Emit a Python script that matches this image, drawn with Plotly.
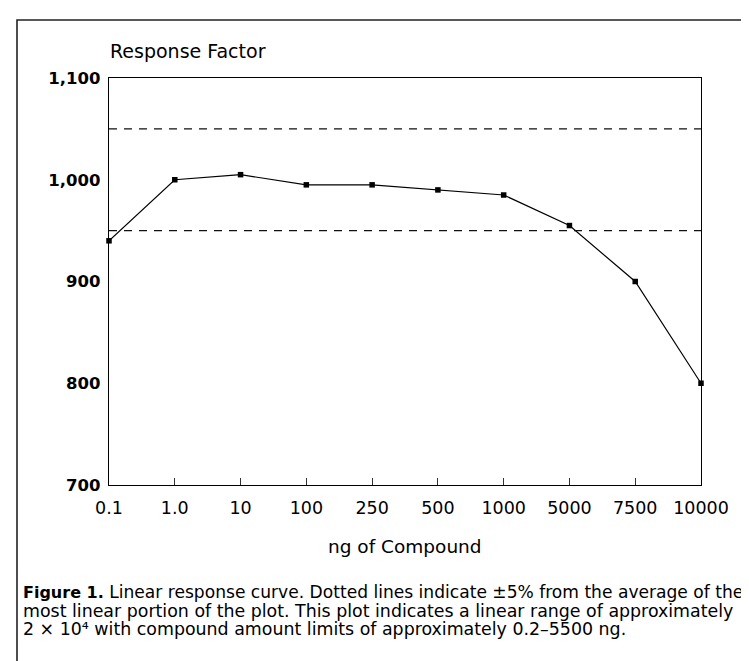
import plotly.graph_objects as go

categories = ["0.1", "1.0", "10", "100", "250", "500", "1000", "5000", "7500", "10000"]
response = [940, 1000, 1005, 995, 995, 990, 985, 955, 900, 800]
limits = [950, 1050]
y_ticks = [700, 800, 900, 1000, 1100]
y_tick_text = ["700", "800", "900", "1,000", "1,100"]

W, H = 749, 661
L, R, T, B = 101, 693, 70, 477

def px(x):
    return (x - L) / (R - L)

def py(y):
    return (B - y) / (B - T)

fig = go.Figure()
fig.add_trace(go.Scatter(
    x=categories, y=response, mode="lines+markers",
    line=dict(color="black", width=1.2),
    marker=dict(symbol="square", size=5.5, color="black"),
    cliponaxis=False, showlegend=False, hoverinfo="skip"))

for v in limits:
    fig.add_shape(type="line", xref="paper", yref="y", x0=0, x1=1, y0=v, y1=v,
                  line=dict(color="#111", width=1.3, dash="8px,7px"))

# outer frame (right and bottom edges lie beyond the picture)
fig.add_shape(type="rect", xref="paper", yref="paper",
              x0=px(9), x1=px(775), y0=py(12), y1=py(690),
              line=dict(color="#222", width=1.6), layer="below")

fig.add_annotation(text="Response Factor", xref="paper", yref="paper",
                   x=px(100), y=py(43), xanchor="left", yanchor="middle",
                   showarrow=False, font=dict(family="DejaVu Sans", size=19, color="black"))

fig.add_annotation(text="ng of Compound", xref="paper", yref="paper",
                   x=0.5, y=py(538), xanchor="center", yanchor="middle",
                   showarrow=False, font=dict(family="DejaVu Sans", size=18.5, color="black"))

lines = [
    "<span style='font-size:16px'><b>Figure 1.</b></span> Linear response curve. "
    "Dotted lines indicate ±5% from the average of the",
    "most linear portion of the plot. This plot indicates a linear range of approximately",
    "2 × 10⁴ with compound amount limits of approximately 0.2–5500 ng.",
]
sizes = [17.1, 17.4, 17.4]
for i, t in enumerate(lines):
    fig.add_annotation(text=t, xref="paper", yref="paper", x=px(13), y=py(584 + 18.7 * i),
                       xanchor="left", yanchor="middle", showarrow=False,
                       font=dict(family="DejaVu Sans", size=sizes[i], color="black"))

fig.update_layout(
    width=W, height=H, margin=dict(l=L, r=W - R, t=T, b=H - B),
    paper_bgcolor="white", plot_bgcolor="white",
    xaxis=dict(type="category", range=[0, 9], showgrid=False, zeroline=False,
               showline=True, linecolor="black", linewidth=1.3, mirror=True,
               ticks="inside", ticklen=7, tickcolor="#333", tickwidth=1,
               ticklabelstandoff=7,
               tickfont=dict(family="DejaVu Sans", size=17.5, color="black")),
    yaxis=dict(range=[700, 1100], tickvals=y_ticks, ticktext=y_tick_text,
               showgrid=False, zeroline=False, showline=True, linecolor="black",
               linewidth=1.3, mirror=True, ticks="", ticklabelstandoff=4,
               tickfont=dict(family="DejaVu Sans", size=16.5, color="black",
                             weight="bold")),
)
fig.write_html("out.html")
